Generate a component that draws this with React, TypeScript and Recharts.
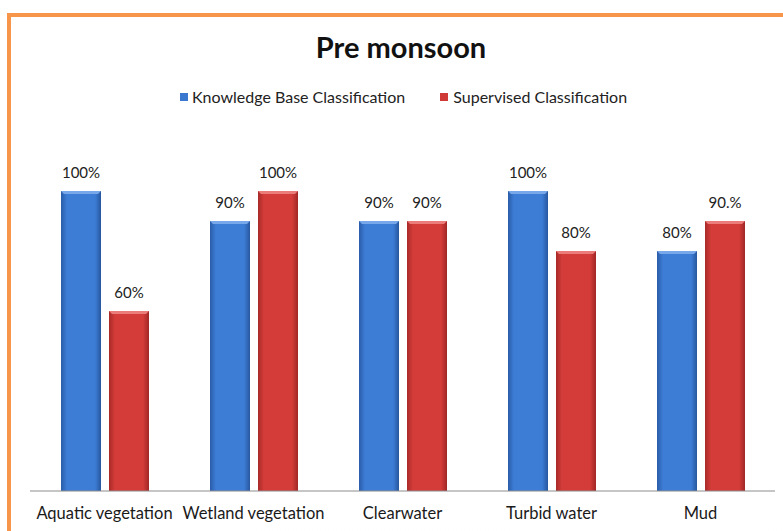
import { BarChart, Bar, XAxis, YAxis, LabelList } from 'recharts';

const categories = ['Aquatic vegetation', 'Wetland vegetation', 'Clearwater', 'Turbid water', 'Mud'];
const knowledgeBase = [100, 90, 90, 100, 80];
const supervised = [60, 100, 90, 80, 90];
const knowledgeBaseLabels = ['100%', '90%', '90%', '100%', '80%'];
const supervisedLabels = ['60%', '100%', '90%', '80%', '90.%'];

const data = categories.map((name, i) => ({
    name,
    kb: knowledgeBase[i],
    sup: supervised[i],
    kbLabel: knowledgeBaseLabels[i],
    supLabel: supervisedLabels[i],
}));

const FONT = 'Lato, "Open Sans", sans-serif';

// bar with a bit of a bevel like the excel 3d look
function BevelBar(props: any) {
    const { x, y, width, height, gradId, top } = props;
    if (!height || height <= 0) return null;
    const b = 3;
    return (
        <g>
            <rect x={x} y={y} width={width} height={height} fill={`url(#${gradId})`} />
            <polygon
                points={`${x},${y} ${x + width},${y} ${x + width - b},${y + b} ${x + b},${y + b}`}
                fill={top}
            />
        </g>
    );
}

export default function App() {
    return (
        <div style={{ position: 'absolute', left: 0, top: 0, width: 783, height: 531, overflow: 'hidden', background: '#fff' }}>
            <div
                style={{
                    position: 'absolute',
                    left: 7,
                    top: 13,
                    width: 800,
                    height: 600,
                    borderTop: '4px solid #f7964a',
                    borderLeft: '4px solid #f7964a',
                    background: 'linear-gradient(to bottom, #ffffff 0%, #ffffff 85%, #fffcef 100%)',
                }}
            />
            <div style={{ position: 'absolute', left: 0, top: 29, width: 802, textAlign: 'center', fontFamily: FONT, fontWeight: 700, fontSize: 29, color: '#111' }}>
                Pre monsoon
            </div>
            <div style={{ position: 'absolute', left: 180, top: 87, fontFamily: FONT, fontSize: 16, color: '#222', display: 'flex', alignItems: 'center' }}>
                <span style={{ display: 'inline-block', width: 8, height: 8, background: '#3a78cf', marginRight: 4 }} />
                <span>Knowledge Base Classification</span>
                <span style={{ display: 'inline-block', width: 8, height: 8, background: '#cf3a37', marginLeft: 35, marginRight: 5 }} />
                <span>Supervised Classification</span>
            </div>
            <div style={{ position: 'absolute', left: 0, top: 0 }}>
                <BarChart
                    width={783}
                    height={531}
                    data={data}
                    margin={{ top: 191, right: 8, bottom: 0, left: 30 }}
                    barGap={8}
                    barSize={40}
                >
                    <defs>
                        <linearGradient id="blueGrad" x1="0" y1="0" x2="1" y2="0">
                            <stop offset="0%" stopColor="#2a5ca8" />
                            <stop offset="15%" stopColor="#3d7dd6" />
                            <stop offset="85%" stopColor="#3d7dd6" />
                            <stop offset="100%" stopColor="#27579e" />
                        </linearGradient>
                        <linearGradient id="redGrad" x1="0" y1="0" x2="1" y2="0">
                            <stop offset="0%" stopColor="#a82a29" />
                            <stop offset="15%" stopColor="#d43c39" />
                            <stop offset="85%" stopColor="#d43c39" />
                            <stop offset="100%" stopColor="#a02726" />
                        </linearGradient>
                    </defs>
                    <XAxis
                        dataKey="name"
                        height={40}
                        axisLine={{ stroke: '#8c8c8c' }}
                        tickLine={false}
                        tickMargin={10}
                        tick={{ fontFamily: FONT, fontSize: 16.5, fill: '#1a1a1a' }}
                        interval={0}
                    />
                    <YAxis hide domain={[0, 100]} />
                    <Bar
                        dataKey="kb"
                        isAnimationActive={false}
                        shape={(p: any) => <BevelBar {...p} gradId="blueGrad" top="#79a8ea" />}
                    >
                        <LabelList dataKey="kbLabel" position="top" offset={13} style={{ fontFamily: FONT, fontSize: 15, fill: '#222' }} />
                    </Bar>
                    <Bar
                        dataKey="sup"
                        isAnimationActive={false}
                        shape={(p: any) => <BevelBar {...p} gradId="redGrad" top="#eb7c79" />}
                    >
                        <LabelList dataKey="supLabel" position="top" offset={13} style={{ fontFamily: FONT, fontSize: 15, fill: '#222' }} />
                    </Bar>
                </BarChart>
            </div>
        </div>
    );
}
